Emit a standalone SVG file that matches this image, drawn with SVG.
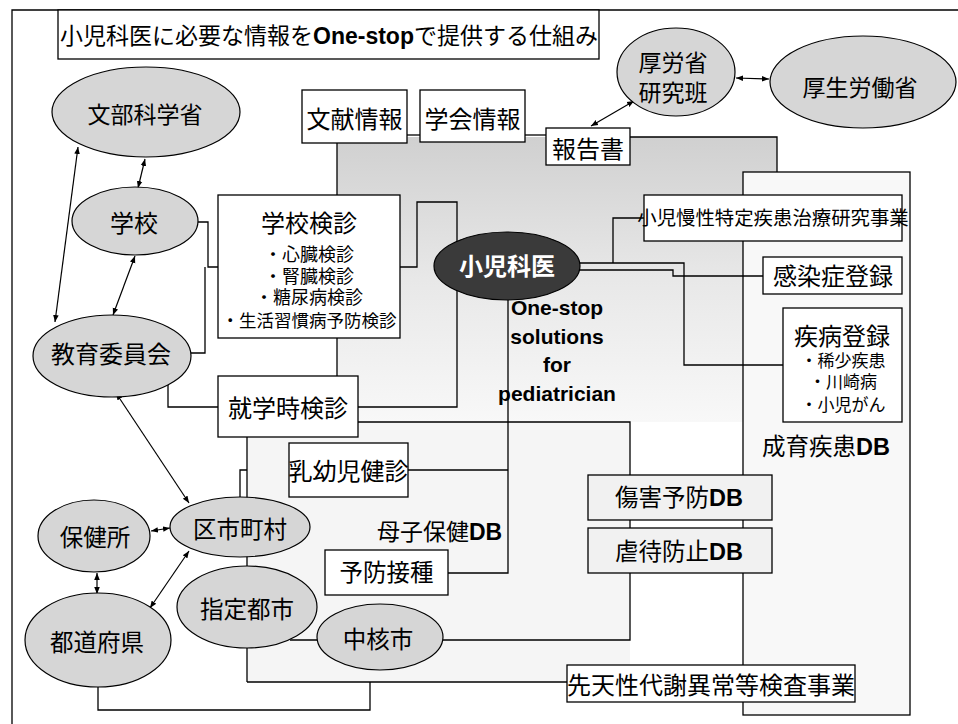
<svg xmlns="http://www.w3.org/2000/svg" width="958" height="724" viewBox="0 0 958 724">
<defs>
<marker id="ah" viewBox="0 0 10 10" refX="10" refY="5" markerWidth="7" markerHeight="7" orient="auto-start-reverse" markerUnits="userSpaceOnUse"><path d="M0,1 L10,5 L0,9 z" fill="#000"/></marker>
<linearGradient id="gr" x1="0" y1="0" x2="0" y2="1"><stop offset="0" stop-color="#d0d0d0"/><stop offset="0.5" stop-color="#e8e8e8"/><stop offset="1" stop-color="#f8f8f8"/></linearGradient>
</defs>
<style>
.t{font-family:"Liberation Sans","Noto Sans CJK JP",sans-serif;fill:#000}
.m{text-anchor:middle}
.b{font-weight:bold}
.box{fill:#fff;stroke:#000;stroke-width:1.3}
.lbox{fill:#f1f1f1;stroke:#000;stroke-width:1.3}
.ell{fill:#d6d6d6;stroke:#000;stroke-width:1.2}
.ln{fill:none;stroke:#000;stroke-width:1.3}
.ar{fill:none;stroke:#000;stroke-width:1.2;marker-start:url(#ah);marker-end:url(#ah)}
</style>
<rect width="958" height="724" fill="#fff"/>
<g id="regions">
<rect x="337" y="137" width="440" height="285" fill="url(#gr)"/>
<rect x="247" y="422" width="383" height="260" fill="#f5f5f5"/>
<rect id="seiiku-db" x="743" y="172" width="167" height="543" fill="#f8f8f8" stroke="#000" stroke-width="1.3"/>
</g>
<g id="frame"><path class="ln" d="M12,724 V10 H958"/></g>
<g id="connectors">
<path class="ln" d="M407,135 H420"/>
<path class="ln" d="M525,135 H546"/>
<path class="ln" d="M630,137 H777 V172"/>
<path class="ln" d="M337,143 V376"/>
<path class="ln" d="M198,222 H208 V267 H218"/>
<path class="ln" d="M191,353 H205 V267"/>
<path class="ln" d="M400,267 H417 V202 H457 V407 H358"/>
<path class="ln" d="M168,384 V407 H218"/>
<path class="ln" d="M358,422 H630 V640 H290"/>
<path class="ln" d="M247,437 V682"/>
<path class="ln" d="M240,498 V470 H247"/>
<path class="ln" d="M98,687 V710 H370 V682"/>
<path class="ln" d="M247,682 H567"/>
<path class="ln" d="M408,470 H508"/>
<path class="ln" d="M448,573 H508 V290"/>
<path class="ln" d="M575,263 H684 V365 H783"/>
<path class="ln" d="M613,263 V218 H644"/>
<path class="ln" d="M575,270 H673 V276 H763"/>
<path class="ar" d="M78,147 L55,322"/>
<path class="ar" d="M145,159 L138,188"/>
<path class="ar" d="M135,256 L113,315"/>
<path class="ar" d="M116,393 L189,503"/>
<path class="ar" d="M151,531 L170,528"/>
<path class="ar" d="M97,573 L97,594"/>
<path class="ar" d="M189,551 L150,608"/>
<path class="ar" d="M591,126 L634,101"/>
<path class="ar" d="M736,78 L769,79"/>
</g>
<g id="title"><rect class="box" x="58" y="10" width="541" height="49"/><text class="t m" x="329" y="44" font-size="23">小児科医に必要な情報を<tspan class="b">One-stop</tspan>で提供する仕組み</text></g>
<g id="bunken"><rect class="box" x="302" y="90" width="105" height="53"/><text class="t m" x="354.5" y="128" font-size="24">文献情報</text></g>
<g id="gakkai"><rect class="box" x="420" y="90" width="105" height="52"/><text class="t m" x="472.5" y="128" font-size="24">学会情報</text></g>
<g id="houkokusho"><rect class="box" x="546" y="128" width="84" height="37"/><text class="t m" x="588" y="158" font-size="24">報告書</text></g>
<g id="kourousho-kenkyuhan"><ellipse class="ell" cx="676" cy="72" rx="59" ry="44"/><text class="t m" x="673" y="71" font-size="23">厚労省</text><text class="t m" x="673" y="101" font-size="23">研究班</text></g>
<g id="kouseiroudousho"><ellipse class="ell" cx="863" cy="82" rx="93" ry="46"/><text class="t m" x="860" y="96" font-size="23">厚生労働省</text></g>
<g id="monbukagakusho"><ellipse class="ell" cx="146" cy="112" rx="94" ry="45"/><text class="t m" x="145" y="123" font-size="23">文部科学省</text></g>
<g id="gakkou"><ellipse class="ell" cx="135" cy="221" rx="63" ry="34"/><text class="t m" x="134" y="232" font-size="24">学校</text></g>
<g id="kyouikuiinkai"><ellipse class="ell" cx="112" cy="356" rx="79" ry="41"/><text class="t m" x="111" y="363" font-size="24">教育委員会</text></g>
<g id="gakkou-kenshin"><rect class="box" x="218" y="195" width="182" height="143"/>
<text class="t m" x="309" y="232" font-size="24">学校検診</text>
<text class="t m" x="309" y="261" font-size="18">・心臓検診</text>
<text class="t m" x="309" y="283" font-size="18">・腎臓検診</text>
<text class="t m" x="309" y="304" font-size="18">・糖尿病検診</text>
<text class="t m" x="309" y="327" font-size="17.5">・生活習慣病予防検診</text></g>
<g id="shugakuji-kenshin"><rect class="box" x="218" y="376" width="140" height="61"/><text class="t m" x="288" y="417" font-size="24">就学時検診</text></g>
<g id="nyuyouji-kenshin"><rect class="box" x="289" y="443" width="119" height="54"/><text class="t m" x="348.5" y="480" font-size="24">乳幼児健診</text></g>
<g id="boshi-hoken-db"><text class="t" x="377" y="540" font-size="23">母子保健<tspan class="b">DB</tspan></text></g>
<g id="yobou-sesshu"><rect class="box" x="325" y="550" width="123" height="45"/><text class="t m" x="386.5" y="581" font-size="23.5">予防接種</text></g>
<g id="hokenjo"><ellipse class="ell" cx="94" cy="536" rx="56" ry="36"/><text class="t m" x="95" y="546" font-size="23.5">保健所</text></g>
<g id="kushichouson"><ellipse class="ell" cx="240" cy="527" rx="70" ry="30"/><text class="t m" x="240" y="538" font-size="23.5">区市町村</text></g>
<g id="todoufuken"><ellipse class="ell" cx="98" cy="640" rx="73" ry="47"/><text class="t m" x="97" y="651" font-size="23.5">都道府県</text></g>
<g id="shitei-toshi"><ellipse class="ell" cx="247" cy="607" rx="70" ry="41"/><text class="t m" x="247" y="618" font-size="23.5">指定都市</text></g>
<g id="chukakushi"><ellipse class="ell" cx="380" cy="637" rx="63" ry="33"/><text class="t m" x="378" y="648" font-size="23.5">中核市</text></g>
<g id="shounikai"><ellipse cx="507" cy="266" rx="73" ry="34" fill="#3a3a3a" stroke="#000" stroke-width="1.2"/><text class="t m b" x="507" y="275" font-size="24" style="fill:#fff">小児科医</text></g>
<g id="one-stop-label"><text class="t m b" font-size="21"><tspan x="557" y="315">One-stop</tspan><tspan x="557" y="344">solutions</tspan><tspan x="557" y="372">for</tspan><tspan x="557" y="401">pediatrician</tspan></text></g>
<g id="shouni-mansei"><rect class="box" x="644" y="195" width="258" height="46"/><text class="t m" x="773" y="225" font-size="19.4">小児慢性特定疾患治療研究事業</text></g>
<g id="kansenshou"><rect class="box" x="763" y="257" width="139" height="37"/><text class="t m" x="833" y="285" font-size="24">感染症登録</text></g>
<g id="shippei-touroku"><rect class="box" x="783" y="308" width="119" height="114"/>
<text class="t m" x="842" y="345" font-size="24">疾病登録</text>
<text class="t m" x="843" y="367" font-size="17">・稀少疾患</text>
<text class="t m" x="843" y="388" font-size="17">・川崎病</text>
<text class="t m" x="843" y="411" font-size="17">・小児がん</text></g>
<g id="seiiku-label"><text class="t" x="762" y="455" font-size="23.5">成育疾患<tspan class="b">DB</tspan></text></g>
<g id="shougai-db"><rect class="lbox" x="588" y="475" width="184" height="45"/><text class="t" x="615" y="506" font-size="23.5">傷害予防<tspan class="b">DB</tspan></text></g>
<g id="gyakutai-db"><rect class="lbox" x="588" y="528" width="184" height="45"/><text class="t" x="615" y="560" font-size="23.5">虐待防止<tspan class="b">DB</tspan></text></g>
<g id="sentensei"><rect class="box" x="567" y="665" width="288" height="37"/><text class="t m" x="711" y="694" font-size="24">先天性代謝異常等検査事業</text></g>
</svg>
